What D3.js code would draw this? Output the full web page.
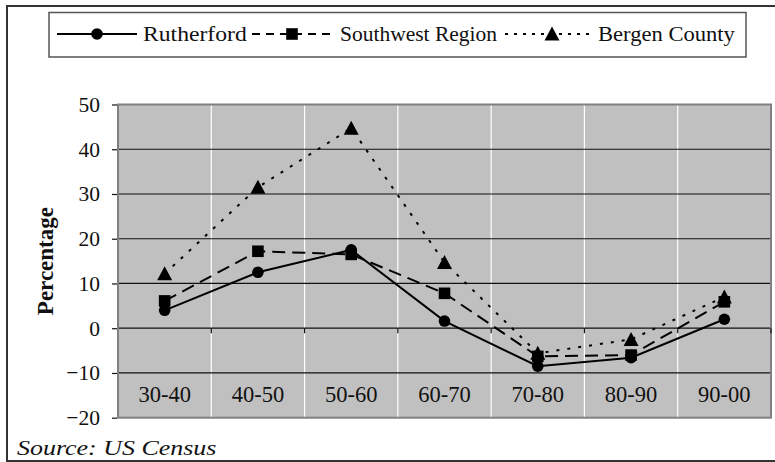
<!DOCTYPE html>
<html>
<head>
<meta charset="utf-8">
<script src="https://cdn.jsdelivr.net/npm/d3@7"></script>
<style>
	body { margin: 0; background: #fff; }
	text { font-family: "Liberation Serif", "Times New Roman", serif; }
</style>
</head>
<body>
<svg id="chart" width="775" height="462"></svg>
<script>
// Decades on the x axis
const decades = ["30-40", "40-50", "50-60", "60-70", "70-80", "80-90", "90-00"];

// Percentage change per decade
const rutherford = [4, 12.5, 17.5, 1.6, -8.5, -6.6, 2];
const southwest = [6.1, 17.2, 16.5, 7.8, -6.3, -6, 5.9];
const bergen = [12.2, 31.5, 44.7, 14.7, -5.6, -2.5, 7];

const yTicks = [-20, -10, 0, 10, 20, 30, 40, 50];

const series = [
	{ name: "Rutherford", values: rutherford, dash: null, legendDash: null, marker: "circle" },
	{ name: "Southwest Region", values: southwest, dash: "13,7", legendDash: "8,6", marker: "square" },
	{ name: "Bergen County", values: bergen, dash: "3,8", legendDash: "3,6", marker: "triangle" }
];

const svg = d3.select("#chart");

// Outer frame
svg.append("rect")
	.attr("x", 7).attr("y", 6)
	.attr("width", 775).attr("height", 455)
	.attr("fill", "#fff")
	.attr("stroke", "#333").attr("stroke-width", 2);

// Plot area
const plotL = 118, plotR = 771, plotT = 104.5, plotB = 417.7;

const x = d3.scaleBand().domain(decades).range([plotL, plotR]);
const y = d3.scaleLinear().domain([-20, 50]).range([plotB, plotT]);

svg.append("rect")
	.attr("x", plotL).attr("y", plotT)
	.attr("width", plotR - plotL).attr("height", plotB - plotT)
	.attr("fill", "#c0c0c0");

// Vertical white grid lines between categories
svg.append("g")
	.selectAll("line")
	.data(decades.slice(1))
	.join("line")
	.attr("x1", d => x(d)).attr("x2", d => x(d))
	.attr("y1", plotT).attr("y2", plotB)
	.attr("stroke", "#fff").attr("stroke-width", 1.2);

// Horizontal grid lines
svg.append("g")
	.selectAll("line")
	.data(yTicks.filter(d => d > -20 && d < 50))
	.join("line")
	.attr("x1", plotL).attr("x2", plotR)
	.attr("y1", d => y(d)).attr("y2", d => y(d))
	.attr("stroke", "#111").attr("stroke-width", 1.2);

// Plot border
svg.append("rect")
	.attr("x", plotL).attr("y", plotT)
	.attr("width", plotR - plotL).attr("height", plotB - plotT)
	.attr("fill", "none")
	.attr("stroke", "#808080").attr("stroke-width", 2);

// Y axis (ticks + labels only, border is the plot frame)
const yAxis = svg.append("g")
	.attr("transform", `translate(${plotL - 1},0)`)
	.call(d3.axisLeft(y).tickValues(yTicks).tickSize(5).tickPadding(12));
yAxis.select(".domain").remove();
yAxis.selectAll(".tick line").attr("stroke", "#111").attr("stroke-width", 1.2);
yAxis.selectAll("text")
	.attr("font-size", 21.5)
	.attr("fill", "#111")
	.style("font-family", "Liberation Serif");

// Tick marks at category boundaries on the zero line
svg.append("g")
	.selectAll("line")
	.data(decades.slice(1).concat(["end"]))
	.join("line")
	.attr("x1", d => d === "end" ? plotR : x(d))
	.attr("x2", d => d === "end" ? plotR : x(d))
	.attr("y1", y(0)).attr("y2", y(0) + 5)
	.attr("stroke", "#111").attr("stroke-width", 1.2);

// Category labels sit in the bottom band
svg.append("g")
	.selectAll("text")
	.data(decades)
	.join("text")
	.attr("x", d => x(d) + x.bandwidth() / 2)
	.attr("y", 401.5)
	.attr("text-anchor", "middle")
	.attr("font-size", 22.5)
	.attr("fill", "#111")
	.text(d => d);

// Y axis title, centred on the plot
svg.append("text")
	.attr("transform", `translate(53,${(plotT + plotB) / 2}) rotate(-90)`)
	.attr("text-anchor", "middle")
	.attr("font-size", 23)
	.attr("font-weight", "bold")
	.attr("fill", "#111")
	.text("Percentage");

// Marker shapes
function drawMarker(g, type, cx, cy) {
	if (type === "circle") {
		g.append("circle").attr("cx", cx).attr("cy", cy).attr("r", 5.8).attr("fill", "#000");
	} else if (type === "square") {
		g.append("rect").attr("x", cx - 5.8).attr("y", cy - 5.8)
			.attr("width", 11.6).attr("height", 11.6).attr("fill", "#000");
	} else {
		g.append("path")
			.attr("d", `M${cx},${cy - 7.5}L${cx + 7.5},${cy + 6.5}L${cx - 7.5},${cy + 6.5}Z`)
			.attr("fill", "#000");
	}
}

const line = d3.line()
	.x((d, i) => x(decades[i]) + x.bandwidth() / 2)
	.y(d => y(d));

// Draw series
series.forEach(s => {
	const g = svg.append("g");
	g.append("path")
		.datum(s.values)
		.attr("d", line)
		.attr("fill", "none")
		.attr("stroke", "#000")
		.attr("stroke-width", 2)
		.attr("stroke-dasharray", s.dash);
	s.values.forEach((v, i) => drawMarker(g, s.marker, x(decades[i]) + x.bandwidth() / 2, y(v)));
});

// Legend
const legend = svg.append("g");
legend.append("rect")
	.attr("x", 49).attr("y", 12.5)
	.attr("width", 697).attr("height", 44.5)
	.attr("fill", "#fff")
	.attr("stroke", "#555").attr("stroke-width", 1.5);

const legendItems = [
	{ x1: 57, x2: 137, mx: 97, tx: 143, sx: 1.1 },
	{ x1: 252, x2: 334, mx: 292, tx: 340, sx: 1.0 },
	{ x1: 505, x2: 590, mx: 552, tx: 598, sx: 1.05 }
];
series.forEach((s, i) => {
	const it = legendItems[i];
	legend.append("line")
		.attr("x1", it.x1).attr("x2", it.x2)
		.attr("y1", 34).attr("y2", 34)
		.attr("stroke", "#000").attr("stroke-width", 2)
		.attr("stroke-dasharray", s.legendDash);
	drawMarker(legend, s.marker, it.mx, 34);
	legend.append("text")
		.attr("transform", `translate(${it.tx},41) scale(${it.sx},1)`)
		.attr("font-size", 21.5)
		.attr("fill", "#111")
		.text(s.name);
});

// Source note (the original is drawn rather wide)
svg.append("text")
	.attr("transform", "translate(17,455) scale(1.18,1)")
	.attr("font-size", 22)
	.attr("font-style", "italic")
	.attr("fill", "#111")
	.text("Source: US Census");
</script>
</body>
</html>
